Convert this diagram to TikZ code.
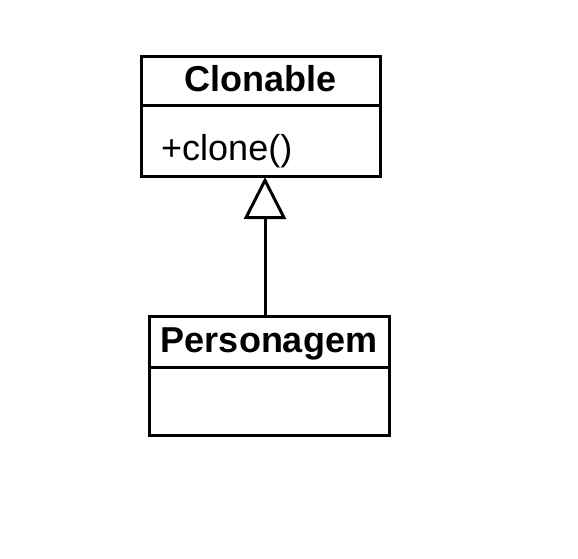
\documentclass[tikz,border=0pt]{standalone}
\usepackage{fontspec}
\setmainfont{Liberation Sans}
\usetikzlibrary{arrows.meta}
\begin{document}
\begin{tikzpicture}[x=1pt,y=-1pt,
  umlbox/.style={draw=black,line width=3pt,rectangle,inner sep=0pt,fill=white},
  titletext/.style={font=\fontsize{36}{40}\selectfont\bfseries,inner sep=0pt,anchor=base},
  bodytext/.style={font=\fontsize{36}{40}\selectfont,inner sep=0pt,anchor=base west},
  divider/.style={line width=3pt},
  inherit/.style={line width=3pt,-{Triangle[open,length=42pt,width=42pt,line width=3pt]}}]
\useasboundingbox (0,0) rectangle (578,558);
% Clonable
\node[umlbox,minimum width=239pt,minimum height=120.5pt] (c) at (260.5,116.7) {};
\draw[divider] (141,105.5) coordinate (cdl) -- (380,105.5) coordinate (cdr);
\node[titletext] (ct) at (260.5,91.5) {Clonable};
\node[bodytext] (cm) at (161,160) {+clone()};
% Personagem
\node[umlbox,minimum width=240pt,minimum height=119pt] (p) at (269.5,376) {};
\draw[divider] (149.5,367.5) coordinate (pdl) -- (389.5,367.5) coordinate (pdr);
\node[titletext] (pt) at (269,352.5) {Personagem};
% inheritance
\coordinate (ps) at (265,316.5);
\coordinate (cs) at (265,177);
\draw[inherit] (ps) -- (cs);
\end{tikzpicture}
\end{document}
